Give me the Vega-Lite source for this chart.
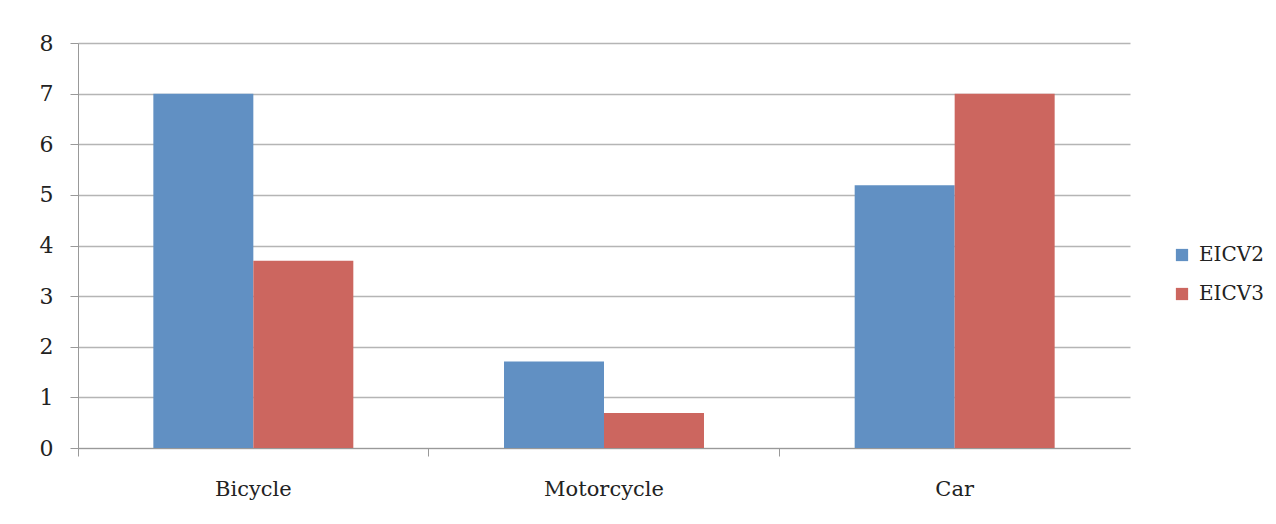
{
  "$schema": "https://vega.github.io/schema/vega-lite/v6.json",
  "width": 1052,
  "height": 405,
  "autosize": {"type": "none"},
  "padding": {"left": 78, "top": 43, "right": 146, "bottom": 76},
  "background": "white",
  "data": {
    "values": [
      {"vehicle": "Bicycle", "survey": "EICV2", "value": 7.0},
      {"vehicle": "Bicycle", "survey": "EICV3", "value": 3.7},
      {"vehicle": "Motorcycle", "survey": "EICV2", "value": 1.71},
      {"vehicle": "Motorcycle", "survey": "EICV3", "value": 0.69},
      {"vehicle": "Car", "survey": "EICV2", "value": 5.19},
      {"vehicle": "Car", "survey": "EICV3", "value": 7.0}
    ]
  },
  "mark": {"type": "bar"},
  "encoding": {
    "x": {
      "field": "vehicle",
      "type": "nominal",
      "sort": ["Bicycle", "Motorcycle", "Car"],
      "scale": {"paddingInner": 0, "paddingOuter": 0},
      "axis": {
        "title": null,
        "labelAngle": 0,
        "labelFont": "DejaVu Serif",
        "labelFontSize": 21,
        "labelColor": "#222222",
        "labelPadding": 22,
        "tickSize": 8,
        "tickColor": "#999999",
        "domainColor": "#999999",
        "bandPosition": 0,
        "grid": false
      }
    },
    "xOffset": {
      "field": "survey",
      "type": "nominal",
      "scale": {"paddingInner": 0, "paddingOuter": 0.7535}
    },
    "y": {
      "field": "value",
      "type": "quantitative",
      "scale": {"domain": [0, 8], "nice": false},
      "axis": {
        "title": null,
        "values": [0, 1, 2, 3, 4, 5, 6, 7, 8],
        "labelFont": "DejaVu Serif",
        "labelFontSize": 22,
        "labelColor": "#222222",
        "labelPadding": 17,
        "tickSize": 8,
        "tickColor": "#999999",
        "domainColor": "#999999",
        "gridColor": "#b5b5b5",
        "gridWidth": 1.5
      }
    },
    "color": {
      "field": "survey",
      "type": "nominal",
      "scale": {"domain": ["EICV2", "EICV3"], "range": ["#6190c3", "#cc665f"]},
      "legend": {
        "title": null,
        "orient": "none",
        "legendX": 1094,
        "legendY": 202,
        "symbolType": "square",
        "symbolSize": 150,
        "symbolStrokeWidth": 0,
        "labelFont": "DejaVu Serif",
        "labelFontSize": 20,
        "labelColor": "#222222",
        "labelOffset": 7,
        "rowPadding": 19
      }
    }
  },
  "config": {"view": {"stroke": null}}
}
